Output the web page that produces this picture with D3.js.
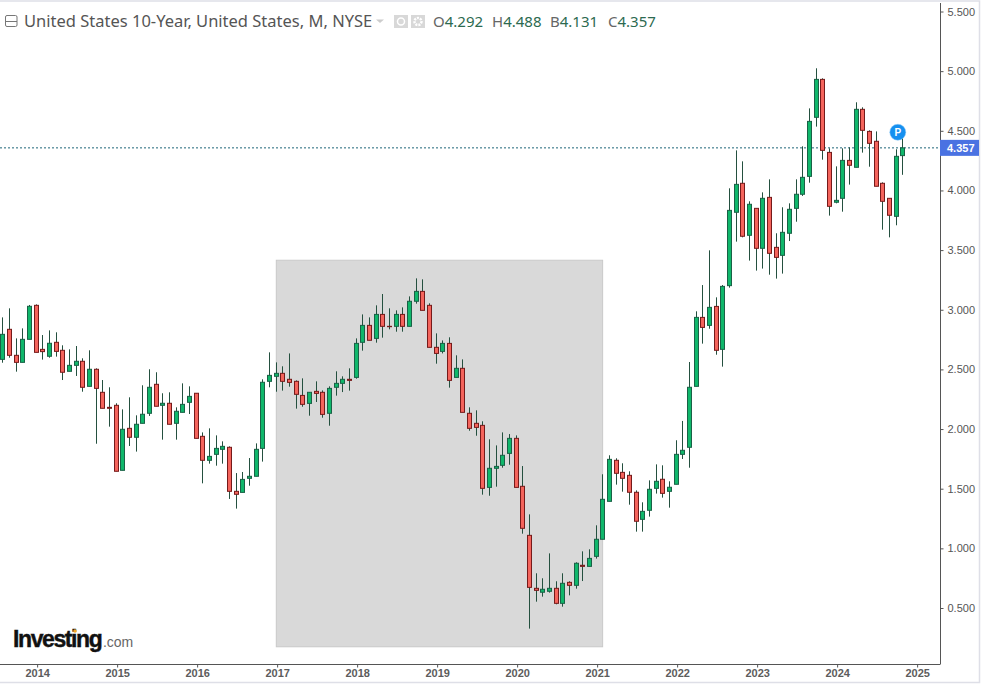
<!DOCTYPE html>
<html>
<head>
<meta charset="utf-8">
<title>United States 10-Year</title>
<script src="https://cdnjs.cloudflare.com/ajax/libs/d3/7.8.5/d3.min.js"></script>
<style>
    html, body { margin: 0; padding: 0; background: #fff; }
    svg { display: block; }
    text { font-family: "Liberation Sans", Arial, sans-serif; }
</style>
</head>
<body>
<script>
"use strict";

// monthly candles, first one is Aug 2013, last one Nov 2024
var opens = [
    2.584, 2.836, 2.618, 2.559, 2.752, 3.037, 2.668, 2.610, 2.727, 2.660,
    2.484, 2.534, 2.568, 2.358, 2.501, 2.308, 2.182, 2.199, 1.654, 2.006,
    1.931, 2.048, 2.132, 2.375, 2.199, 2.216, 2.048, 2.140, 2.224, 2.300,
    1.939, 1.738, 1.788, 1.830, 1.847, 1.478, 1.469, 1.587, 1.604, 1.838,
    2.400, 2.442, 2.467, 2.417, 2.400, 2.282, 2.215, 2.316, 2.308, 2.132,
    2.350, 2.383, 2.417, 2.433, 2.727, 2.869, 2.760, 2.961, 2.861, 2.861,
    2.961, 2.861, 3.071, 3.154, 3.037, 2.685, 2.651, 2.718, 2.433, 2.509,
    2.132, 2.048, 2.031, 1.511, 1.671, 1.696, 1.796, 1.922, 1.520, 1.109,
    0.665, 0.632, 0.640, 0.665, 0.539, 0.715, 0.690, 0.858, 0.849, 0.933,
    1.076, 1.394, 1.738, 1.637, 1.612, 1.470, 1.243, 1.319, 1.503, 1.579,
    1.478, 1.537, 1.788, 1.847, 2.358, 2.936, 2.869, 3.028, 2.668, 3.202,
    3.817, 4.060, 3.624, 3.850, 3.515, 3.942, 3.523, 3.456, 3.641, 3.850,
    3.968, 4.118, 4.613, 4.931, 4.319, 3.901, 3.934, 4.252, 4.194, 4.680,
    4.495, 4.412, 4.060, 3.934, 3.783, 4.292
];
var highs = [
    2.936, 3.012, 2.760, 2.844, 3.040, 3.045, 2.788, 2.827, 2.811, 2.702,
    2.668, 2.696, 2.593, 2.660, 2.509, 2.411, 2.350, 2.216, 2.165, 2.266,
    2.115, 2.367, 2.501, 2.476, 2.300, 2.308, 2.182, 2.383, 2.358, 2.300,
    1.972, 2.006, 1.947, 1.897, 1.855, 1.631, 1.640, 1.757, 1.880, 2.417,
    2.643, 2.559, 2.526, 2.634, 2.408, 2.425, 2.308, 2.400, 2.324, 2.358,
    2.484, 2.442, 2.509, 2.760, 2.961, 2.936, 3.037, 3.132, 3.012, 2.995,
    3.020, 3.112, 3.263, 3.255, 3.054, 2.802, 2.743, 2.769, 2.618, 2.584,
    2.182, 2.157, 2.065, 1.914, 1.863, 1.972, 1.958, 1.947, 1.690, 1.285,
    0.791, 0.749, 0.958, 0.724, 0.791, 0.724, 0.883, 0.975, 0.992, 1.193,
    1.621, 1.780, 1.755, 1.713, 1.646, 1.486, 1.386, 1.570, 1.704, 1.696,
    1.562, 1.906, 2.068, 2.562, 2.987, 3.207, 3.498, 3.104, 3.207, 4.018,
    4.336, 4.244, 3.909, 3.850, 3.984, 4.093, 3.641, 3.859, 3.892, 4.093,
    4.370, 4.688, 5.024, 4.940, 4.353, 4.202, 4.353, 4.361, 4.739, 4.697,
    4.504, 4.495, 4.068, 3.934, 4.345, 4.488
];
var lows = [
    2.556, 2.598, 2.481, 2.559, 2.752, 2.643, 2.582, 2.598, 2.607, 2.411,
    2.484, 2.445, 2.313, 2.358, 1.877, 2.174, 2.020, 1.646, 1.654, 1.858,
    1.811, 2.048, 2.110, 2.191, 1.911, 2.040, 1.911, 2.140, 2.126, 1.922,
    1.545, 1.710, 1.693, 1.710, 1.414, 1.333, 1.469, 1.525, 1.604, 1.727,
    2.350, 2.313, 2.322, 2.355, 2.171, 2.187, 2.112, 2.227, 2.095, 2.028,
    2.280, 2.310, 2.322, 2.422, 2.657, 2.744, 2.724, 2.766, 2.836, 2.816,
    2.816, 2.861, 3.051, 2.995, 2.685, 2.548, 2.634, 2.347, 2.433, 2.140,
    1.986, 1.944, 1.450, 1.441, 1.517, 1.676, 1.701, 1.511, 1.123, 0.327,
    0.553, 0.595, 0.629, 0.531, 0.511, 0.606, 0.662, 0.726, 0.849, 0.914,
    1.076, 1.394, 1.534, 1.475, 1.366, 1.140, 1.140, 1.266, 1.459, 1.425,
    1.341, 1.537, 1.749, 1.676, 2.358, 2.716, 2.841, 2.623, 2.523, 3.185,
    3.571, 3.607, 3.412, 3.328, 3.345, 3.294, 3.261, 3.303, 3.576, 3.738,
    3.954, 4.065, 4.535, 4.258, 3.789, 3.892, 3.822, 4.049, 4.194, 4.317,
    4.199, 4.035, 3.671, 3.607, 3.708, 4.131
];
var closes = [
    2.794, 2.618, 2.559, 2.752, 3.029, 2.643, 2.649, 2.719, 2.651, 2.476,
    2.534, 2.568, 2.350, 2.501, 2.341, 2.174, 2.174, 1.646, 1.998, 1.931,
    2.040, 2.124, 2.350, 2.191, 2.216, 2.040, 2.149, 2.207, 2.274, 1.922,
    1.738, 1.771, 1.838, 1.855, 1.478, 1.453, 1.578, 1.604, 1.830, 2.392,
    2.450, 2.467, 2.400, 2.391, 2.291, 2.207, 2.308, 2.299, 2.123, 2.341,
    2.383, 2.417, 2.408, 2.718, 2.869, 2.744, 2.961, 2.861, 2.858, 2.961,
    2.861, 3.071, 3.154, 2.995, 2.685, 2.634, 2.718, 2.408, 2.509, 2.140,
    2.006, 2.014, 1.503, 1.671, 1.687, 1.780, 1.922, 1.511, 1.168, 0.673,
    0.648, 0.657, 0.665, 0.539, 0.707, 0.690, 0.875, 0.849, 0.916, 1.076,
    1.411, 1.746, 1.629, 1.587, 1.470, 1.227, 1.310, 1.495, 1.562, 1.461,
    1.512, 1.788, 1.822, 2.350, 2.936, 2.852, 3.020, 2.660, 3.196, 3.833,
    4.051, 3.616, 3.884, 3.515, 3.934, 3.473, 3.439, 3.649, 3.842, 3.968,
    4.110, 4.579, 4.931, 4.336, 3.867, 3.917, 4.252, 4.211, 4.680, 4.504,
    4.395, 4.035, 3.909, 3.792, 4.286, 4.357
];

var priceTicks = [0.5, 1.0, 1.5, 2.0, 2.5, 3.0, 3.5, 4.0, 4.5, 5.0, 5.5];
var yearLabels = [2014, 2015, 2016, 2017, 2018, 2019, 2020, 2021, 2022, 2023, 2024, 2025];
var JAN_2014 = 5; // candle index of the first year tick

// grey box somebody dropped on the chart: candle indexes and prices
var boxCandles = [41.1, 90.05];
var boxPrices = [3.415, 0.175];

var lastPrice = closes[closes.length - 1];
var legendItems = [
    { label: "O", value: opens[135], x: 433 },
    { label: "H", value: highs[135], x: 492 },
    { label: "B", value: lows[135], x: 550 },
    { label: "C", value: closes[135], x: 608 }
];

var WIDTH = 983, HEIGHT = 684;
var PLOT = { RIGHT: 940, BOTTOM: 664 };

var x = d3.scaleLinear().domain([0, 135]).range([2.3, 902.3]);
var y = d3.scaleLinear().domain([0.5, 5.5]).range([608, 11.5]);

var svg = d3.select("body").append("svg")
            .attr("width", WIDTH)
            .attr("height", HEIGHT);

// widget frame
svg.append("rect")
    .attr("x", -2).attr("y", 1)
    .attr("width", 981.5).attr("height", 681.5)
    .attr("fill", "#fff")
    .attr("stroke", "#dedfe7")
    .attr("stroke-width", 1.5);

// the box goes under the candles
svg.append("rect")
    .attr("x", x(boxCandles[0]))
    .attr("y", y(boxPrices[0]))
    .attr("width", x(boxCandles[1]) - x(boxCandles[0]))
    .attr("height", y(boxPrices[1]) - y(boxPrices[0]))
    .attr("fill", "#d9d9d9")
    .attr("stroke", "#c9c9c9")
    .attr("stroke-width", 1);

// last price line
svg.append("line")
    .attr("x1", 0).attr("x2", PLOT.RIGHT)
    .attr("y1", y(lastPrice)).attr("y2", y(lastPrice))
    .attr("stroke", "#1d6478")
    .attr("stroke-width", 1)
    .attr("stroke-dasharray", "2,2");

var candles = svg.append("g").selectAll("g")
    .data(opens.map(function(d, i) { return i; }))
    .enter().append("g");

var isUp = function(i) { return closes[i] >= opens[i]; };
var candleX = function(i) { return Math.round(x(i)) + 0.5; };

candles.append("line")
    .attr("x1", candleX).attr("x2", candleX)
    .attr("y1", function(i) { return y(highs[i]); })
    .attr("y2", function(i) { return y(lows[i]); })
    .attr("stroke", "#24503f")
    .attr("stroke-width", 1);

candles.append("rect")
    .attr("x", function(i) { return candleX(i) - 2; })
    .attr("y", function(i) { return y(Math.max(opens[i], closes[i])); })
    .attr("width", 4)
    .attr("height", function(i) { return Math.abs(y(opens[i]) - y(closes[i])); })
    .attr("fill", function(i) { return isUp(i) ? "#10b76b" : "#f4645c"; })
    .attr("stroke", function(i) { return isUp(i) ? "#1a6146" : "#751a1a"; })
    .attr("stroke-width", 1);

// price axis
var yAxis = svg.append("g")
    .attr("transform", "translate(" + (PLOT.RIGHT + 0.5) + ",0)")
    .call(d3.axisRight(y).tickValues(priceTicks).tickSize(3).tickPadding(4).tickFormat(d3.format(".3f")));
yAxis.select(".domain").attr("d", "M0,3V" + PLOT.BOTTOM).attr("stroke", "#555");
yAxis.selectAll(".tick line").attr("stroke", "#555");
yAxis.selectAll("text").attr("fill", "#555").style("font-size", "11px").style("font-family", "'Liberation Sans'");

// time axis, ticks sit slightly right of the candles
var xAxis = svg.append("g")
    .attr("transform", "translate(1.5," + (PLOT.BOTTOM + 0.5) + ")")
    .call(d3.axisBottom(x)
        .tickValues(yearLabels.map(function(d) { return JAN_2014 + (d - 2014) * 12; }))
        .tickSize(3).tickPadding(2)
        .tickFormat(function(d) { return yearLabels[(d - JAN_2014) / 12]; }));
xAxis.select(".domain").attr("d", "M-2,0H" + (PLOT.RIGHT - 1)).attr("stroke", "#555");
xAxis.selectAll(".tick line").attr("stroke", "#555");
xAxis.selectAll("text").attr("fill", "#5c5c5c").style("font-size", "11px").style("font-weight", "bold").style("font-family", "'Liberation Sans'");

// last price tag
svg.append("rect")
    .attr("x", PLOT.RIGHT).attr("y", y(lastPrice) - 8)
    .attr("width", 39).attr("height", 16)
    .attr("fill", "#4a72e2");
svg.append("text")
    .attr("x", PLOT.RIGHT + 7).attr("y", y(lastPrice) + 4)
    .attr("fill", "#fff")
    .style("font-size", "11px").style("font-weight", "bold")
    .text(d3.format(".3f")(lastPrice));

// P marker over the last candle
var marker = svg.append("g")
    .attr("transform", "translate(" + (x(135) - 4.5) + "," + y(highs[135]) + ")");
marker.append("circle").attr("r", 8).attr("fill", "#1590f0").attr("stroke", "#8cc8f5").attr("stroke-width", 0.5);
marker.append("text")
    .attr("text-anchor", "middle").attr("y", 3.5)
    .attr("fill", "#fff")
    .style("font-size", "10px").style("font-weight", "bold")
    .text("P");

// header
var header = svg.append("g");
header.append("rect")
    .attr("x", 5.5).attr("y", 15.5).attr("width", 11.5).attr("height", 11).attr("rx", 1.5)
    .attr("fill", "none").attr("stroke", "#777");
header.append("line")
    .attr("x1", 5.5).attr("x2", 17).attr("y1", 21.5).attr("y2", 21.5)
    .attr("stroke", "#777");
header.append("text")
    .attr("x", 24).attr("y", 27)
    .attr("fill", "#555")
    .style("font-family", "'Noto Sans'").style("font-size", "16.5px")
    .text("United States 10-Year, United States, M, NYSE");
header.append("path")
    .attr("d", "M376,19.5h8l-4,3.5z")
    .attr("fill", "#ccc");

// the two small buttons
header.append("rect").attr("x", 394).attr("y", 15).attr("width", 14).attr("height", 13).attr("fill", "#d8d8d8");
header.append("circle").attr("cx", 401).attr("cy", 21.5).attr("r", 3.5).attr("fill", "none").attr("stroke", "#fff").attr("stroke-width", 1.5);
header.append("rect").attr("x", 411).attr("y", 15).attr("width", 14).attr("height", 13).attr("fill", "#d8d8d8");
header.append("circle").attr("cx", 418).attr("cy", 21.5).attr("r", 3.5).attr("fill", "none").attr("stroke", "#fff").attr("stroke-width", 2.5).attr("stroke-dasharray", "2,1");

var legend = header.selectAll(".ohlc")
    .data(legendItems)
    .enter().append("text")
    .attr("class", "ohlc")
    .attr("x", function(d) { return d.x; })
    .attr("y", 27)
    .style("font-family", "'Noto Sans'").style("font-size", "15px");
legend.append("tspan").attr("fill", "#666").text(function(d) { return d.label; });
legend.append("tspan").attr("fill", "#2c6a50").text(function(d) { return d3.format(".3f")(d.value); });

// logo
var logo = svg.append("text").attr("x", 13).attr("y", 647);
logo.append("tspan")
    .attr("fill", "#111")
    .attr("stroke", "#111")
    .attr("stroke-width", 0.4)
    .style("font-size", "23px").style("font-weight", "bold").style("letter-spacing", "-1.4px")
    .text("Investing");
logo.append("tspan")
    .attr("fill", "#666")
    .attr("dx", 1.5)
    .style("font-size", "14px")
    .text(".com");
svg.append("circle").attr("cx", 75).attr("cy", 631).attr("r", 1.8).attr("fill", "#f5a623");
</script>
</body>
</html>
